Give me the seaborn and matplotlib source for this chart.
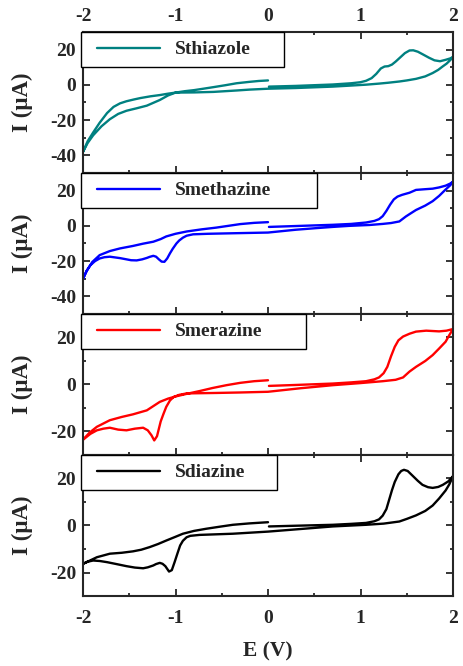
import numpy as np
import pandas as pd
import seaborn as sns
from matplotlib import pyplot as plt
from matplotlib.ticker import MultipleLocator
from matplotlib.lines import Line2D
from matplotlib.legend_handler import HandlerLine2D

# cyclic voltammograms: forward 0 -> 2 V, reverse 2 -> -2 V, return -2 -> 0 V
names = ["Sthiazole", "Smethazine", "Smerazine", "Sdiazine"]
colors = ["#008080", "#0000ff", "#ff0000", "#000000"]

sthiazole_E = [0.01, 0.3, 0.7, 0.9, 1.0, 1.06, 1.12, 1.17, 1.22, 1.26, 1.3, 1.34, 1.38, 1.43, 1.48, 1.53, 1.57, 1.62,
               1.67, 1.74, 1.8, 1.86, 1.92, 1.97, 2.0,
               1.97, 1.93, 1.89, 1.84, 1.78, 1.7, 1.6, 1.5, 1.42, 1.3, 1.2, 1.06, 0.9, 0.7, 0.5, 0.3, 0.0, -0.2,
               -0.34, -0.59, -0.8, -1.0, -1.08, -1.17, -1.24, -1.31, -1.42, -1.53, -1.62, -1.71, -1.8, -1.89, -1.95, -2.0,
               -1.95, -1.89, -1.82, -1.74, -1.67, -1.6, -1.53, -1.45, -1.38, -1.27, -1.17, -1.08, -1.0, -0.9, -0.8,
               -0.7, -0.59, -0.46, -0.34, -0.2, -0.1, 0.0]
sthiazole_I = [-1.0, -0.6, 0.2, 0.9, 1.5, 2.3, 3.8, 6.2, 9.3, 10.4, 10.6, 11.5, 13.2, 15.6, 18.0, 19.5, 19.6, 18.8,
               17.4, 15.4, 13.9, 13.4, 14.2, 15.0, 15.8,
               14.0, 12.0, 10.5, 8.5, 6.7, 4.8, 3.4, 2.5, 1.9, 1.2, 0.7, 0.1, -0.4, -1.0, -1.4, -1.8, -2.2, -2.7,
               -3.2, -4.0, -4.3, -4.4, -6.0, -8.6, -10.2, -11.8, -13.3, -14.7, -16.5, -19.5, -23.5, -28.6, -33.0, -38.0,
               -32.0, -27.0, -21.5, -16.0, -12.5, -10.5, -9.3, -8.3, -7.5, -6.5, -5.8, -5.0, -4.4, -3.6, -3.0,
               -2.2, -1.3, -0.2, 0.9, 1.7, 2.2, 2.5]

smethazine_E = [0.01, 0.3, 0.7, 0.9, 1.06, 1.15, 1.2, 1.24, 1.28, 1.32, 1.36, 1.4, 1.45, 1.53, 1.6, 1.7, 1.78, 1.85,
                1.92, 1.97, 2.0,
                1.97, 1.92, 1.85, 1.78, 1.7, 1.6, 1.54, 1.49, 1.42, 1.33, 1.24, 1.1, 0.88, 0.7, 0.52, 0.3, 0.0,
                -0.38, -0.65, -0.81, -0.88, -0.92, -0.96, -0.99, -1.03, -1.06, -1.09, -1.12, -1.15, -1.18, -1.21,
                -1.24, -1.28, -1.31, -1.36, -1.42, -1.48, -1.53, -1.6, -1.71, -1.77, -1.82, -1.87, -1.92, -1.96, -2.0,
                -1.96, -1.9, -1.82, -1.71, -1.6, -1.46, -1.35, -1.24, -1.16, -1.1, -1.0, -0.88, -0.72, -0.56, -0.43,
                -0.3, -0.15, 0.0]
smethazine_I = [-0.6, -0.1, 0.6, 1.1, 1.9, 2.8, 3.8, 5.5, 8.5, 12.0, 15.0, 16.6, 17.6, 18.8, 20.4, 20.8, 21.1, 21.8,
                22.8, 24.0, 25.0,
                23.0, 20.6, 17.0, 14.0, 11.5, 9.0, 7.0, 5.3, 2.5, 1.6, 1.1, 0.5, 0.0, -0.6, -1.3, -2.2, -3.8,
                -4.2, -4.5, -4.8, -5.6, -6.7, -8.3, -10.0, -13.0, -15.6, -18.5, -20.4, -20.3, -19.0, -17.5,
                -17.0, -17.6, -18.2, -19.0, -19.6, -19.5, -19.0, -18.3, -17.5, -17.8, -18.5, -20.0, -22.3, -25.5, -30.0,
                -25.5, -20.5, -16.6, -14.3, -12.8, -11.4, -10.1, -9.0, -7.5, -6.0, -4.5, -3.2, -2.0, -1.0, 0.0,
                1.0, 1.7, 2.1]

smerazine_E = [0.01, 0.3, 0.7, 0.9, 1.06, 1.15, 1.2, 1.25, 1.29, 1.33, 1.37, 1.41, 1.46, 1.53, 1.6, 1.71, 1.85, 1.93, 2.0,
               1.96, 1.92, 1.85, 1.78, 1.7, 1.6, 1.53, 1.46, 1.38, 1.24, 1.0, 0.7, 0.35, 0.0, -0.3, -0.56, -0.88,
               -0.96, -1.02, -1.06, -1.1, -1.13, -1.16, -1.2, -1.23, -1.26, -1.3, -1.35, -1.44, -1.53, -1.62, -1.71,
               -1.78, -1.85, -1.92, -2.0,
               -1.93, -1.85, -1.71, -1.58, -1.46, -1.31, -1.17, -1.08, -0.99, -0.87, -0.74, -0.6, -0.45, -0.3, -0.15, 0.0]
smerazine_I = [-0.6, -0.2, 0.4, 0.9, 1.4, 2.2, 3.0, 4.8, 7.5, 12.0, 16.0, 18.8, 20.4, 21.6, 22.5, 22.9, 22.6, 22.9, 23.6,
               21.0, 18.2, 15.3, 12.5, 10.0, 7.5, 5.5, 3.0, 2.0, 1.4, 0.6, -0.3, -1.6, -3.1, -3.4, -3.6, -3.8,
               -4.4, -5.3, -6.8, -9.5, -12.5, -15.7, -22.0, -23.8, -21.6, -19.5, -18.4, -18.8, -19.5, -19.2, -18.4,
               -18.8, -19.5, -21.0, -23.5,
               -20.5, -18.0, -15.2, -13.8, -12.7, -11.0, -7.4, -6.0, -5.0, -3.9, -2.8, -1.5, -0.3, 0.7, 1.4, 1.8]

sdiazine_E = [0.01, 0.3, 0.7, 0.9, 1.06, 1.15, 1.2, 1.24, 1.28, 1.31, 1.34, 1.37, 1.41, 1.44, 1.47, 1.51, 1.56, 1.62,
              1.67, 1.73, 1.78, 1.84, 1.89, 1.95, 2.0,
              1.96, 1.92, 1.85, 1.78, 1.7, 1.6, 1.5, 1.42, 1.25, 1.06, 0.7, 0.35, 0.0, -0.38, -0.74, -0.84, -0.88,
              -0.92, -0.95, -0.98, -1.01, -1.04, -1.07, -1.11, -1.14, -1.17, -1.21, -1.24, -1.3, -1.35, -1.44, -1.53,
              -1.64, -1.74, -1.82, -1.89, -1.95, -2.0,
              -1.93, -1.85, -1.71, -1.58, -1.46, -1.37, -1.28, -1.19, -1.1, -1.0, -0.92, -0.8, -0.67, -0.52, -0.38,
              -0.2, 0.0]
sdiazine_I = [-0.4, -0.1, 0.3, 0.7, 1.1, 1.8, 2.6, 4.2, 7.0, 11.0, 15.0, 18.5, 21.8, 23.2, 23.7, 23.2, 21.3, 19.0,
              17.3, 16.3, 16.0, 16.4, 17.3, 18.8, 21.0,
              17.5, 14.9, 11.5, 8.5, 6.2, 4.3, 2.8, 1.7, 0.8, 0.3, -0.4, -1.5, -2.6, -3.5, -4.0, -4.4, -5.0,
              -6.5, -8.5, -12.0, -15.6, -19.0, -19.6, -17.3, -16.3, -15.9, -16.4, -17.0, -17.8, -18.2, -17.9, -17.3,
              -16.4, -15.6, -15.1, -14.9, -15.4, -16.3,
              -15.0, -13.5, -12.0, -11.6, -11.0, -10.3, -9.2, -7.9, -6.4, -4.8, -3.5, -2.3, -1.4, -0.5, 0.3,
              0.9, 1.4]

curves = [(sthiazole_E, sthiazole_I), (smethazine_E, smethazine_I),
          (smerazine_E, smerazine_I), (sdiazine_E, sdiazine_I)]
ylims = [(-50, 30), (-50, 30), (-30, 30), (-30, 30)]
legend_w = [0.549, 0.638, 0.608, 0.53]

sns.set_style("ticks")
plt.rcParams["font.family"] = ["Liberation Serif", "DejaVu Serif"]
plt.rcParams["font.weight"] = "bold"
plt.rcParams["axes.unicode_minus"] = False

fig, axes = plt.subplots(4, 1, figsize=(4.63, 6.66), dpi=100, sharex=True)
fig.subplots_adjust(left=0.1793, right=0.9784, top=0.952, bottom=0.1051, hspace=0)

for i, ax in enumerate(axes):
    E, I = curves[i]
    df = pd.DataFrame({"E": E, "I": I})
    sns.lineplot(data=df, x="E", y="I", sort=False, estimator=None, color=colors[i],
                 lw=1.7, ax=ax, label=names[i])
    ax.set_xlim(-2, 2)
    ax.set_ylim(*ylims[i])
    ax.xaxis.set_major_locator(MultipleLocator(1))
    ax.xaxis.set_minor_locator(MultipleLocator(0.5))
    ax.yaxis.set_major_locator(MultipleLocator(20))
    ax.yaxis.set_minor_locator(MultipleLocator(10))
    ax.tick_params(which="both", direction="in", top=True, right=True, width=1.3,
                   labelsize=14, labelbottom=False, labeltop=False)
    ax.tick_params(which="major", length=5)
    ax.tick_params(which="minor", length=2.5)
    ax.tick_params(axis="y", pad=5)
    for sp in ax.spines.values():
        sp.set_linewidth(1.5)
    ax.set_xlabel("")
    ax.set_ylabel("I (\u03bcA)", fontsize=16.5, fontweight="bold")
    ax.yaxis.set_label_coords(-0.135, 0.5)
    leg = ax.legend(loc="upper left", bbox_to_anchor=(-0.006, 0, legend_w[i], 1.0), mode="expand",
                    borderaxespad=0, borderpad=0.45, fancybox=False, framealpha=1, edgecolor="black",
                    handlelength=3.6, handletextpad=0.8, prop={"size": 14, "weight": "bold"},
                    handler_map={Line2D: HandlerLine2D(xpad=0.36)})
    leg.get_frame().set_linewidth(1.0)
    for ln in leg.get_lines():
        ln.set_linewidth(1.7)

axes[0].tick_params(axis="x", labeltop=True, pad=5)
axes[-1].tick_params(axis="x", labelbottom=True, pad=10)
axes[-1].set_xlabel("E (V)", fontsize=15.5, fontweight="bold")
axes[-1].xaxis.set_label_coords(0.5, -0.32)

fig.savefig("out.png", dpi=100)
